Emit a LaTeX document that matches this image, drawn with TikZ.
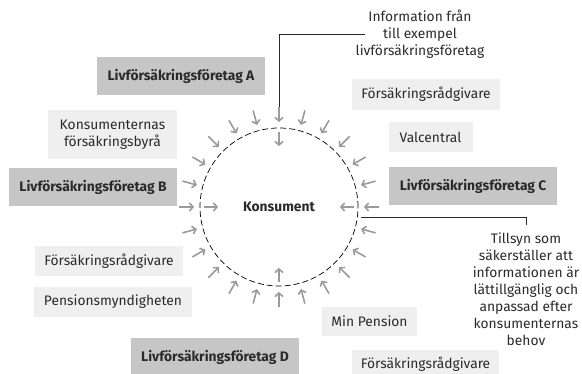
\documentclass[tikz,border=0pt]{standalone}
\usepackage{fontspec}
\setmainfont{Fira Sans}
\usetikzlibrary{arrows.meta,calc}
\definecolor{darkbox}{HTML}{C6C6C6}
\definecolor{lightbox}{HTML}{EFEFEF}
\definecolor{arrgray}{HTML}{9A9A9A}
\definecolor{txt}{HTML}{2A2A2A}
\begin{document}
\begin{tikzpicture}[x=1pt,y=-1pt,
  every node/.style={font=\fontsize{13.8}{17}\selectfont, text=txt},
  dbox/.style={fill=darkbox, inner sep=0pt, font=\fontsize{13.8}{17}\selectfont\bfseries},
  lbox/.style={fill=lightbox, inner sep=0pt},
  inarrow/.style={draw=arrgray, line width=1.6pt, -{Straight Barb[length=3.5pt,width=8pt]}},
  connector/.style={draw=txt, line width=0.8pt}
]
\useasboundingbox (0,0) rectangle (582,374);

% central circle
\node[circle, draw=black, dashed, dash pattern=on 6pt off 3pt, line width=0.7pt,
      minimum size=158pt, inner sep=0pt] (c) at (279,207) {};
\node[font=\fontsize{13.8}{17}\selectfont\bfseries] (kons) at (279,207) {Konsument};

% outer arrows
\foreach \a in {0,15,...,345}{
  \draw[inarrow] ($(c.center)+(\a:-100)$) -- ($(c.center)+(\a:-85)$);
}
% inner arrows
\foreach \a in {0,90,180,270}{
  \draw[inarrow] ($(c.center)+(\a:-75)$) -- ($(c.center)+(\a:-61)$);
}

% boxes
\node[dbox, minimum width=168pt, minimum height=38pt] (A) at (181,76) {Livförsäkringsföretag A};
\node[lbox, minimum width=129pt, minimum height=49pt, align=center] (kfb) at (112.5,134.5) {Konsumenternas\\försäkringsbyrå};
\node[dbox, minimum width=168pt, minimum height=38pt] (B) at (93,187) {Livförsäkringsföretag B};
\node[lbox, minimum width=148pt, minimum height=31pt] (fr1) at (426,94.5) {Försäkringsrådgivare};
\node[lbox, minimum width=84pt, minimum height=30pt] (valc) at (430.5,137) {Valcentral};
\node[dbox, minimum width=168pt, minimum height=38pt] (C) at (473,186) {Livförsäkringsföretag C};
\node[lbox, minimum width=148pt, minimum height=30pt] (fr2) at (109,261) {Försäkringsrådgivare};
\node[lbox, minimum width=158pt, minimum height=30pt] (pm) at (113,302) {Pensionsmyndigheten};
\node[lbox, minimum width=95pt, minimum height=29pt] (minp) at (369.5,321.5) {Min Pension};
\node[dbox, minimum width=168pt, minimum height=38pt] (D) at (215,357) {Livförsäkringsföretag D};
\node[lbox, minimum width=147pt, minimum height=28pt] (fr3) at (425.5,364) {Försäkringsrådgivare};

% annotation texts
\node[align=center, inner sep=0pt] (info) at (420,34) {Information från\\till exempel\\livförsäkringsföretag};
\node[align=center, inner sep=0pt, anchor=north] (tills) at (526,233) {Tillsyn som\\säkerställer att\\informationen är\\lättillgänglig och\\anpassad efter\\konsumenternas\\behov};

% connectors
\coordinate (topt) at ($(c.center)+(90:-100)$);
\coordinate (infoend) at (365,34);
\draw[connector] (topt) |- (infoend);
\coordinate (rst) at ($(c.center)+(7.5:83)$);
\coordinate (rend) at ($(tills.north)+(0,-8)$);
\draw[connector] (rst) -| (rend);
\end{tikzpicture}
\end{document}
